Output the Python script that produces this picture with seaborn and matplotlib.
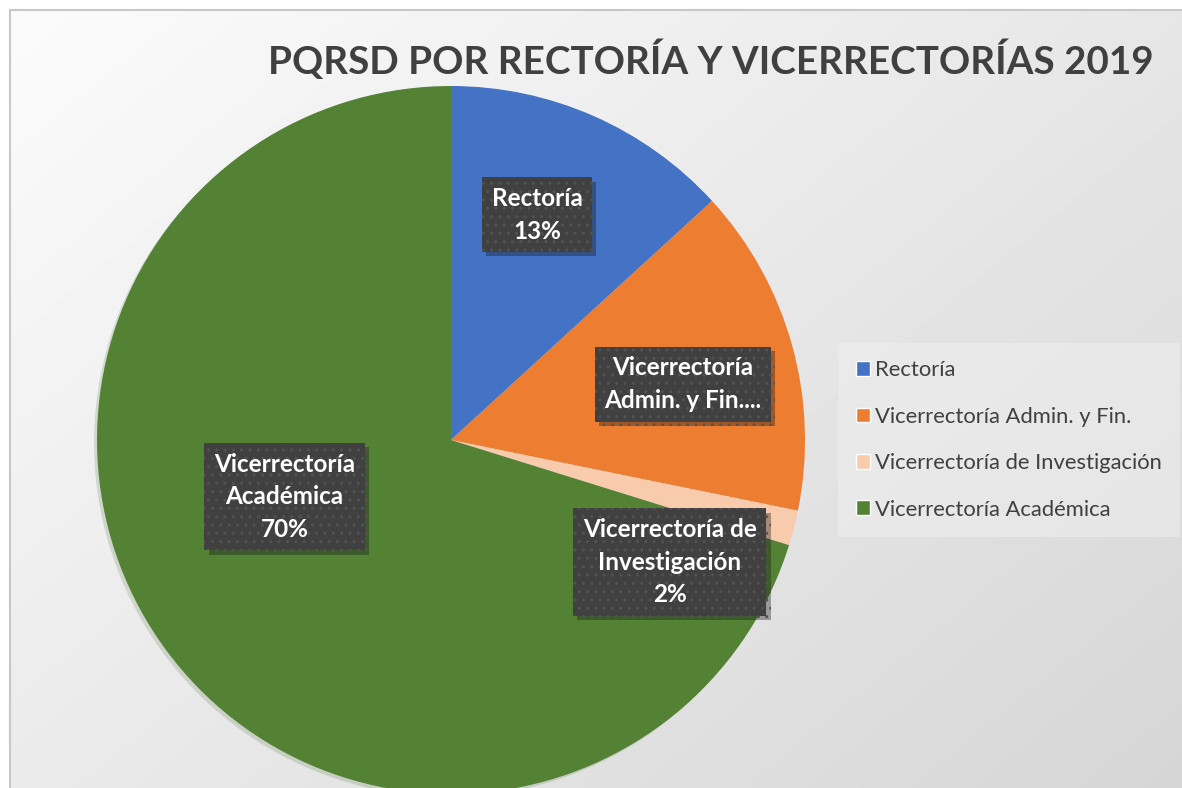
import numpy as np
import matplotlib.pyplot as plt
import matplotlib.patheffects as pe
import seaborn as sns

# Data
categories = ['Rectoría', 'Vicerrectoría Admin. y Fin.',
              'Vicerrectoría de Investigación', 'Vicerrectoría Académica']
shares = [13.2, 15.0, 1.6, 70.2]
colors = ['#4472C4', '#ED7D31', '#F8CBAD', '#548235']
box_labels = ['Rectoría\n13%', 'Vicerrectoría\nAdmin. y Fin....',
              'Vicerrectoría de\nInvestigación\n2%', 'Vicerrectoría\nAcadémica\n70%']
label_xy = [(0.243, 0.636), (0.655, 0.158), (0.618, -0.345), (-0.47, -0.16)]

sns.set_theme(style='white')
plt.rcParams['font.family'] = ['Lato', 'DejaVu Sans']

W, H = 1182, 788
fig = plt.figure(figsize=(W / 100, H / 100), dpi=100)

# gradient background with thin border (runs off the right/bottom edges)
bg = fig.add_axes([10 / W, -0.02, 1.0, 1 - 10 / H + 0.02])
yy, xx = np.mgrid[0:1:200j, 0:1:300j]
grad = 0.985 - 0.15 * (0.55 * xx + 0.45 * yy)
bg.imshow(grad, cmap='gray', vmin=0, vmax=1, aspect='auto', extent=[0, 1, 0, 1],
          origin='upper', interpolation='bilinear')
bg.set_xticks([])
bg.set_yticks([])
for s in bg.spines.values():
    s.set_color('#c8c8c8')
    s.set_linewidth(1.5)

# pie axes: centre (451, 440) px, radius 354 px
cx, cy, r = 451, 440, 354
ax = fig.add_axes([(cx - r) / W, (H - cy - r) / H, 2 * r / W, 2 * r / H])
ax.pie(shares, colors=colors, startangle=90, counterclock=False, radius=1,
       wedgeprops=dict(linewidth=0),
       shadow=dict(ox=-0.006, oy=-0.006, shade=0.2, alpha=0.18))
ax.set_xlim(-1, 1)
ax.set_ylim(-1, 1)
ax.set_aspect('auto')
ax.axis('off')

for txt, (x, y) in zip(box_labels, label_xy):
    t = ax.text(x, y, txt, ha='center', va='center', color='white',
                fontsize=17.5, fontweight='bold', linespacing=1.5,
                bbox=dict(boxstyle='square,pad=0.4', facecolor='#404040',
                          edgecolor='#525252', linewidth=0, hatch='..'))
    t.get_bbox_patch().set_path_effects(
        [pe.SimplePatchShadow(offset=(3, -3), alpha=0.35), pe.Normal()])

fig.text(711 / W, 1 - 60 / H, 'PQRSD POR RECTORÍA Y VICERRECTORÍAS 2019',
         ha='center', va='center', fontsize=27.8, fontweight='bold', color='#404040')

handles = [plt.Rectangle((0, 0), 1, 1, facecolor=c) for c in colors]
leg = fig.legend(handles, categories, loc='center left',
                 bbox_to_anchor=(838 / W, 1 - 440 / H), frameon=True,
                 fontsize=15.8, labelcolor='#404040', handlelength=0.65,
                 handleheight=0.65, handletextpad=0.25, labelspacing=1.2,
                 borderpad=0.8, borderaxespad=0, fancybox=False)
leg.get_frame().set_facecolor('#f0f0f0')
leg.get_frame().set_edgecolor('none')
leg.get_frame().set_alpha(0.5)

fig.savefig('out.png', dpi=100)
